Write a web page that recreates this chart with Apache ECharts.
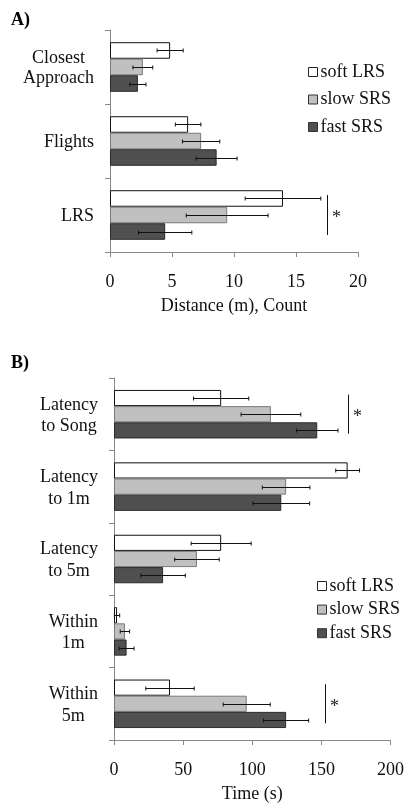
<!DOCTYPE html>
<html><head><meta charset="utf-8">
<script src="https://cdn.jsdelivr.net/npm/echarts@6/dist/echarts.min.js"></script>
<style>html,body{margin:0;padding:0;background:#fff}#c{width:407px;height:804px}</style>
</head><body><div id="c"></div>
<script>
const seriesNames = ['soft LRS', 'slow SRS', 'fast SRS'];

const catsA = ['Closest\nApproach', 'Flights', 'LRS'];
const softA = [4.85, 6.3, 13.95];
const slowA = [2.65, 7.35, 9.45];
const fastA = [2.25, 8.6, 4.45];
const softAErr = [1.05, 1.03, 3.05];
const slowAErr = [0.8, 1.5, 3.3];
const fastAErr = [0.65, 1.65, 2.15];
const ticksA = [0, 5, 10, 15, 20];
const sigA = [[17.5, 2]];

const catsB = ['Latency\nto Song', 'Latency\nto 1m', 'Latency\nto 5m', 'Within\n1m', 'Within\n5m'];
const softB = [77.5, 169, 77.5, 2.2, 40.5];
const slowB = [113.5, 124.5, 60, 7.9, 96];
const fastB = [147, 121, 35.5, 9.1, 124.5];
const softBErr = [20, 8.6, 21.7, 1.9, 17.5];
const slowBErr = [21.6, 17.2, 16.1, 3.4, 17];
const fastBErr = [15, 20.5, 16.1, 5.4, 16.3];
const ticksB = [0, 50, 100, 150, 200];
const sigB = [[169, 0], [152.7, 4]];

const FONT = 'Liberation Serif';
const FS = 18;
const GAP = 0.33;
const fills = ['#ffffff', '#c0c0c0', '#505050'];
const borders = ['#111111', '#7a7a7a', '#2a2a2a'];

function errRender(idx) {
  return function (params, api) {
    const cat = api.value(0), mean = api.value(1), err = api.value(2);
    const band = api.size([0, 1])[1];
    const bw = band * (1 - GAP) / 3;
    const yc = api.coord([mean, cat])[1];
    const y = Math.round(yc - 1.5 * bw + (idx + 0.5) * bw) + 0.5;
    const x1 = api.coord([mean - err, cat])[0];
    const x2 = api.coord([mean + err, cat])[0];
    const st = { stroke: '#111', lineWidth: 1 };
    return {
      type: 'group', children: [
        { type: 'line', shape: { x1: x1, y1: y, x2: x2, y2: y }, style: st },
        { type: 'line', shape: { x1: x1, y1: y - 2, x2: x1, y2: y + 2 }, style: st },
        { type: 'line', shape: { x1: x2, y1: y - 2, x2: x2, y2: y + 2 }, style: st }
      ]
    };
  };
}

function sigRender(params, api) {
  const x = api.value(0), cat = api.value(1);
  const band = api.size([0, 1])[1];
  const p = api.coord([x, cat]);
  const px = Math.round(p[0]) + 0.5;
  return {
    type: 'group', children: [
      { type: 'line', shape: { x1: px, y1: p[1] - band * 0.27, x2: px, y2: p[1] + band * 0.27 }, style: { stroke: '#111', lineWidth: 1 } },
      { type: 'text', x: px + 9, y: p[1] + 3, style: { text: '*', fill: '#222', font: '18px "' + FONT + '"', align: 'center', verticalAlign: 'middle' } }
    ]
  };
}

function catLabel(v) { return v.split('\n').map(s => '{c|' + s + '}').join('\n'); }

function makeAxes(gi, cats, ticks, name, lh) {
  const x = {
    type: 'value', gridIndex: gi, min: ticks[0], max: ticks[ticks.length - 1], interval: ticks[1] - ticks[0],
    splitLine: { show: false },
    axisLine: { show: true, lineStyle: { color: '#888', width: 1 } },
    axisTick: { show: true, length: 5, lineStyle: { color: '#888' } },
    axisLabel: { margin: 21, fontFamily: FONT, fontSize: FS, color: '#111' },
    name: name, nameLocation: 'middle', nameGap: 45,
    nameTextStyle: { fontFamily: FONT, fontSize: FS, color: '#111' }
  };
  const y = {
    type: 'category', gridIndex: gi, data: cats, inverse: true,
    axisLine: { show: true, lineStyle: { color: '#888', width: 1 } },
    axisTick: { show: true, length: 5, lineStyle: { color: '#888' } },
    axisLabel: {
      margin: 16, align: 'right', formatter: catLabel, padding: [3, 0, 0, 0],
      rich: { c: { align: 'center', fontFamily: FONT, fontSize: FS, color: '#111', lineHeight: lh } }
    }
  };
  return [x, y];
}

const axA = makeAxes(0, catsA, ticksA, 'Distance (m), Count', 20);
const axB = makeAxes(1, catsB, ticksB, 'Time (s)', 21.5);

const series = [];
function addSeries(gi, vals, errs) {
  vals.forEach((v, i) => {
    series.push({
      type: 'bar', name: seriesNames[i], xAxisIndex: gi, yAxisIndex: gi, data: v,
      barGap: '0%', barCategoryGap: (GAP * 100) + '%',
      itemStyle: { color: fills[i], borderColor: borders[i], borderWidth: 1 }
    });
  });
  errs.forEach((e, i) => {
    series.push({
      type: 'custom', xAxisIndex: gi, yAxisIndex: gi, z: 5, silent: true,
      renderItem: errRender(i),
      encode: { x: 1, y: 0 },
      data: vals[i].map((v, k) => [k, v, e[k]])
    });
  });
}
addSeries(0, [softA, slowA, fastA], [softAErr, slowAErr, fastAErr]);
addSeries(1, [softB, slowB, fastB], [softBErr, slowBErr, fastBErr]);
series.push({ type: 'custom', xAxisIndex: 0, yAxisIndex: 0, z: 6, renderItem: sigRender, encode: { x: 0, y: 1 }, data: sigA });
series.push({ type: 'custom', xAxisIndex: 1, yAxisIndex: 1, z: 6, renderItem: sigRender, encode: { x: 0, y: 1 }, data: sigB });

const legendData = seriesNames.map((n, i) => ({
  name: n, icon: 'rect',
  itemStyle: { color: fills[i], borderColor: i === 0 ? '#222' : '#333', borderWidth: 1 }
}));
const legendBase = {
  orient: 'vertical', data: legendData, itemWidth: 9, itemHeight: 9, selectedMode: false,
  textStyle: { fontFamily: FONT, fontSize: FS, color: '#111', lineHeight: 18, padding: [0, 0, 0, -2] }
};

const option = {
  animation: false,
  backgroundColor: '#fff',
  title: [
    { text: 'A)', left: 6, top: 6, textStyle: { fontFamily: FONT, fontWeight: 'bold', fontSize: FS, color: '#000' } },
    { text: 'B)', left: 6, top: 349, textStyle: { fontFamily: FONT, fontWeight: 'bold', fontSize: FS, color: '#000' } }
  ],
  grid: [
    { left: 110, top: 30, width: 248, height: 222 },
    { left: 114, top: 378, width: 279, height: 362 }
  ],
  xAxis: [axA[0], axB[0]],
  yAxis: [axA[1], axB[1]],
  legend: [
    Object.assign({}, legendBase, { left: 303, top: 58, itemGap: 9.5 }),
    Object.assign({}, legendBase, { left: 312, top: 572, itemGap: 5.6 })
  ],
  series: series
};
echarts.init(document.getElementById('c')).setOption(option);
</script></body></html>
